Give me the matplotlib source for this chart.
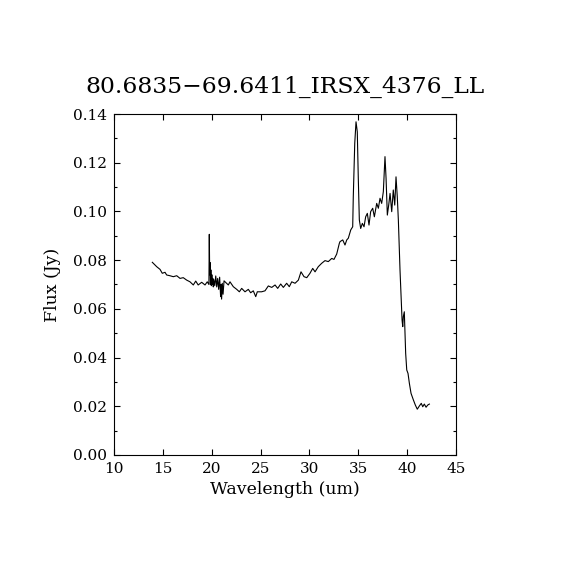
import matplotlib
matplotlib.use("Agg")
import matplotlib.pyplot as plt
from matplotlib.ticker import MultipleLocator

title = "80.6835\u221269.6411_IRSX_4376_LL"
xlabel = "Wavelength (um)"
ylabel = "Flux (Jy)"

wavelength = [
    13.90, 14.07, 14.35, 14.69, 14.92, 15.20, 15.37, 15.70, 16.05, 16.40,
    16.74, 17.07, 17.42, 17.76, 18.10, 18.35, 18.60, 18.96, 19.30, 19.53,
    19.70, 19.74, 19.78, 19.82, 19.86, 19.90, 19.95, 20.00, 20.05, 20.10,
    20.15, 20.20, 20.30, 20.40, 20.50, 20.60, 20.70, 20.80, 20.90, 20.95,
    21.00, 21.07, 21.15, 21.25, 21.35, 21.69, 21.86, 22.20, 22.55, 22.82,
    23.06, 23.40, 23.74, 23.98, 24.25, 24.50, 24.66, 25.10, 25.45, 25.79,
    26.14, 26.48, 26.75, 27.06, 27.33, 27.67, 27.94, 28.19, 28.53, 28.87,
    29.14, 29.45, 29.73, 30.06, 30.34, 30.58, 30.91, 31.26, 31.60, 31.94,
    32.29, 32.52, 32.80, 33.07, 33.14, 33.42, 33.65, 33.83, 33.99, 34.24,
    34.44, 34.50, 34.65, 34.78, 34.91, 35.01, 35.12, 35.26, 35.43, 35.60,
    35.77, 35.94, 36.11, 36.28, 36.49, 36.66, 36.90, 37.07, 37.24, 37.41,
    37.58, 37.75, 37.86, 37.99, 38.13, 38.27, 38.44, 38.60, 38.75, 38.88,
    39.01, 39.12, 39.29, 39.40, 39.50, 39.57, 39.63, 39.73, 39.80, 39.87,
    39.98, 40.11, 40.25, 40.42, 40.66, 40.86, 41.06, 41.27, 41.47, 41.62,
    41.78, 41.96, 42.13, 42.30,
]
flux = [
    0.0791, 0.0784, 0.0773, 0.0762, 0.0746, 0.0750, 0.0739, 0.0736, 0.0732, 0.0736,
    0.0725, 0.0728, 0.0718, 0.0711, 0.0698, 0.0714, 0.0698, 0.0709, 0.0698, 0.0711,
    0.0700, 0.0906, 0.0740, 0.0790, 0.0700, 0.0760, 0.0695, 0.0740, 0.0700, 0.0725,
    0.0690, 0.0720, 0.0695, 0.0735, 0.0690, 0.0725, 0.0680, 0.0730, 0.0650, 0.0700,
    0.0640, 0.0705, 0.0660, 0.0715, 0.0711, 0.0698, 0.0711, 0.0691, 0.0680, 0.0670,
    0.0684, 0.0670, 0.0680, 0.0666, 0.0674, 0.0650, 0.0670, 0.0670, 0.0674, 0.0694,
    0.0688, 0.0698, 0.0684, 0.0702, 0.0688, 0.0705, 0.0691, 0.0711, 0.0705, 0.0718,
    0.0752, 0.0732, 0.0728, 0.0746, 0.0766, 0.0752, 0.0773, 0.0787, 0.0798, 0.0794,
    0.0807, 0.0803, 0.0825, 0.0869, 0.0876, 0.0883, 0.0862, 0.0883, 0.0890, 0.0924,
    0.0937, 0.1060, 0.1280, 0.1368, 0.1327, 0.1142, 0.0965, 0.0930, 0.0951, 0.0937,
    0.0978, 0.0992, 0.0944, 0.0999, 0.1013, 0.0978, 0.1033, 0.1013, 0.1054, 0.1033,
    0.1081, 0.1225, 0.1136, 0.0985, 0.1026, 0.1074, 0.0999, 0.1088, 0.1026, 0.1142,
    0.1060, 0.0965, 0.0759, 0.0650, 0.0554, 0.0527, 0.0568, 0.0588, 0.0500, 0.0417,
    0.0349, 0.0335, 0.0294, 0.0253, 0.0226, 0.0205, 0.0188, 0.0201, 0.0212, 0.0198,
    0.0209, 0.0196, 0.0205, 0.0209,
]

plt.rcParams['font.family'] = ['DejaVu Serif']
fig = plt.figure(figsize=(5.7, 5.7), dpi=100)
ax = fig.add_axes([0.2005, 0.2018, 0.5990, 0.5982])
ax.plot(wavelength, flux, color='black', lw=0.8)
ax.set_xlim(10, 45)
ax.set_ylim(0, 0.14)
ax.xaxis.set_major_locator(MultipleLocator(5))
ax.yaxis.set_major_locator(MultipleLocator(0.02))
ax.yaxis.set_minor_locator(MultipleLocator(0.01))
ax.yaxis.set_major_formatter(matplotlib.ticker.FormatStrFormatter('%.2f'))
ax.tick_params(axis='both', which='both', direction='in', top=True, right=True,
               labelsize=11, width=0.8, color='black')
ax.tick_params(axis='x', which='major', length=4.3, pad=5)
ax.tick_params(axis='y', which='major', length=4.3, pad=5)
ax.tick_params(axis='y', which='minor', length=2.2)
for s in ax.spines.values():
    s.set_linewidth(0.8)
ax.set_xlabel(xlabel, fontsize=12.5, labelpad=4)
ax.set_ylabel(ylabel, fontsize=12.5, labelpad=9)
ax.set_title(title, fontsize=16.8, pad=15)
fig.savefig('out.png', dpi=100)
